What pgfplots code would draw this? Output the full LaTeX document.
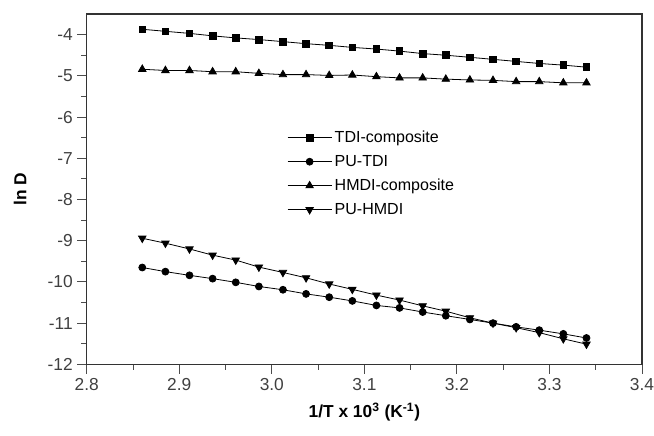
\documentclass[border=0pt]{standalone}
\usepackage{fontspec}
\setmainfont{Liberation Sans}
\usepackage{pgfplots}
\pgfplotsset{compat=1.18}
\begin{document}
\begin{tikzpicture}
\begin{axis}[
    width=416pt, height=262.5pt, scale only axis,
    xmin=2.8, xmax=3.4, ymin=-12, ymax=-3.5,
    xtick={2.8,2.9,3.0,3.1,3.2,3.3,3.4},
    ytick={-12,-11,-10,-9,-8,-7,-6,-5,-4},
    minor x tick num=1, minor y tick num=1,
    tick align=outside, tick pos=left,
    major tick length=7pt, minor tick length=4pt,
    every tick/.style={black!70, line width=0.7pt},
    axis line style={black!80, line width=1pt},
    /pgf/number format/assume math mode=true,
    ticklabel style={font=\fontsize{13}{15}\selectfont, text=black!75},
    xticklabel style={/pgf/number format/.cd, fixed, fixed zerofill, precision=1},
    every axis x label/.style={at={(rel axis cs:0.5,0)}, anchor=center, yshift=-36pt},
    every axis y label/.style={at={(rel axis cs:0,0.5)}, anchor=center, xshift=-50pt, rotate=90},
    xlabel={\textbf{1/T x 10\textsuperscript{3} (K\textsuperscript{-1})}},
    ylabel={\textbf{ln D}},
    label style={font=\fontsize{13}{15}\selectfont},
    legend style={at={(axis cs:3.012,-6.2)}, anchor=north west, draw=none, fill=none,
                  font=\fontsize{12}{14}\selectfont, row sep=4pt},
    legend cell align=left,
    legend image code/.code={\draw[mark repeat=2,mark phase=2]
        plot coordinates {(0pt,0pt)(16.5pt,0pt)(33pt,0pt)};},
    every axis plot/.append style={black, line width=0.6pt, mark size=2.6pt},
]
% TDI-composite
\addplot[mark=square*, mark size=2.5pt] coordinates {
(2.860,-3.87) (2.885,-3.92) (2.911,-3.97) (2.936,-4.03) (2.961,-4.08)
(2.986,-4.12) (3.012,-4.17) (3.037,-4.22) (3.062,-4.26) (3.087,-4.31)
(3.113,-4.35) (3.138,-4.40) (3.163,-4.46) (3.188,-4.50) (3.214,-4.55)
(3.239,-4.60) (3.264,-4.65) (3.289,-4.70) (3.315,-4.74) (3.340,-4.79)};
% PU-TDI
\addplot[mark=*] coordinates {
(2.860,-9.65) (2.885,-9.75) (2.911,-9.84) (2.936,-9.92) (2.961,-10.01)
(2.986,-10.11) (3.012,-10.19) (3.037,-10.29) (3.062,-10.37) (3.087,-10.46)
(3.113,-10.57) (3.138,-10.63) (3.163,-10.73) (3.188,-10.82) (3.214,-10.91)
(3.239,-11.00) (3.264,-11.09) (3.289,-11.17) (3.315,-11.26) (3.340,-11.36)};
% HMDI-composite
\addplot[mark=triangle*, mark size=3.2pt] coordinates {
(2.860,-4.84) (2.885,-4.87) (2.911,-4.87) (2.936,-4.90) (2.961,-4.90)
(2.986,-4.94) (3.012,-4.97) (3.037,-4.97) (3.062,-4.99) (3.087,-4.98)
(3.113,-5.02) (3.138,-5.05) (3.163,-5.05) (3.188,-5.08) (3.214,-5.10)
(3.239,-5.11) (3.264,-5.14) (3.289,-5.14) (3.315,-5.17) (3.340,-5.17)};
% PU-HMDI
\addplot[mark=triangle*, mark size=3.2pt, mark options={rotate=180}] coordinates {
(2.860,-8.94) (2.885,-9.06) (2.911,-9.20) (2.936,-9.35) (2.961,-9.47)
(2.986,-9.64) (3.012,-9.77) (3.037,-9.90) (3.062,-10.05) (3.087,-10.18)
(3.113,-10.32) (3.138,-10.44) (3.163,-10.58) (3.188,-10.71) (3.214,-10.87)
(3.239,-11.00) (3.264,-11.11) (3.289,-11.23) (3.315,-11.38) (3.340,-11.51)};
\legend{TDI-composite, PU-TDI, HMDI-composite, PU-HMDI}
\end{axis}
\pgfresetboundingbox
\path[use as bounding box] ([xshift=-65pt,yshift=-53pt]current axis.south west)
    rectangle ([xshift=9pt,yshift=10.5pt]current axis.north east);
\end{tikzpicture}
\end{document}
